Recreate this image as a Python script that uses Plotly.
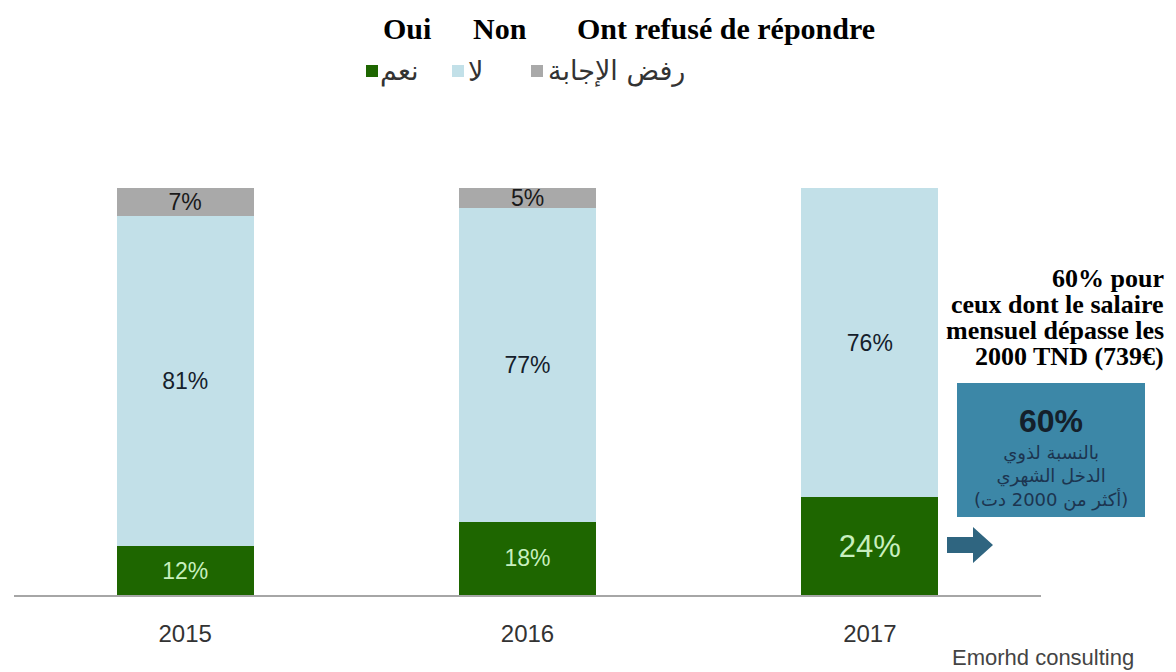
import plotly.graph_objects as go

years = ["2015", "2016", "2017"]
oui = [12, 18, 24]
non = [81, 77, 76]
refus = [7, 5, 0]

names_ar = ["نعم", "لا", "رفض الإجابة"]
names_fr = ["Oui", "Non", "Ont refusé de répondre"]
colors = ["#1e6600", "#c2e0e8", "#a9a9a9"]

note_fr = ["60% pour", "ceux dont le salaire", "mensuel dépasse les", "2000 TND (739€)"]
box_value = "60%"
box_ar = ["بالنسبة لذوي", "الدخل الشهري", "(أكثر من 2000 دت)"]
source = "Emorhd consulting"

W, H = 1176, 672
L, R, T, B = 14, 135, 188, 77


# pixel -> paper coordinates
def px(x):
    return (x - L) / (W - L - R)


def py(y):
    return (H - B - y) / (H - T - B)


def labels(vals):
    return [f"{v}%" if v else "" for v in vals]


fig = go.Figure()
series = [(oui, "#c8efbf", [23, 23, 31]), (non, "#15202b", [23, 23, 23]), (refus, "#1a1a1a", [23, 23, 23])]
for (vals, tcol, tsize), name, col in zip(series, names_ar, colors):
    fig.add_trace(go.Bar(
        x=years, y=vals, name=name, marker_color=col, marker_line_width=0,
        width=0.4, text=labels(vals), textposition="inside", insidetextanchor="middle",
        constraintext="none", textangle=0,
        textfont=dict(family="Liberation Sans", color=tcol, size=tsize),
        showlegend=False, hoverinfo="skip",
    ))

shapes = []
annotations = []

# french legend header
fr_left = [383, 473, 577]
for txt, x0 in zip(names_fr, fr_left):
    annotations.append(dict(x=px(x0 - 2), y=py(29), xref="paper", yref="paper", text=f"<b>{txt}</b>",
                            showarrow=False, xanchor="left", yanchor="middle",
                            font=dict(family="Liberation Serif", size=30, color="#000")))

# arabic legend (square then label)
sq_left = [366, 452, 531]
txt_left = [378, 466, 546]
for name, col, sx, tx in zip(names_ar, colors, sq_left, txt_left):
    shapes.append(dict(type="rect", xref="paper", yref="paper", x0=px(sx), x1=px(sx + 12),
                       y0=py(65), y1=py(77), fillcolor=col, line_width=0))
    annotations.append(dict(x=px(tx), y=py(71), xref="paper", yref="paper", text=name,
                            showarrow=False, xanchor="left", yanchor="middle",
                            font=dict(family="DejaVu Sans", size=27, color="#333")))

# right-hand note
for i, line in enumerate(note_fr):
    annotations.append(dict(x=px(1166), y=py(278 + 26 * i), xref="paper", yref="paper",
                            text=f"<b>{line}</b>", showarrow=False, xanchor="right", yanchor="middle",
                            font=dict(family="Liberation Serif", size=26, color="#000")))

# teal box
shapes.append(dict(type="rect", xref="paper", yref="paper", x0=px(957), x1=px(1145),
                   y0=py(517), y1=py(383), fillcolor="#3c87a7", line_width=0))
annotations.append(dict(x=px(1051), y=py(421), xref="paper", yref="paper", text=f"<b>{box_value}</b>",
                        showarrow=False, xanchor="center", yanchor="middle",
                        font=dict(family="Liberation Sans", size=32, color="#14202b")))
annotations.append(dict(x=px(1051), y=py(476), xref="paper", yref="paper", text="<br>".join(box_ar),
                        showarrow=False, xanchor="center", yanchor="middle", align="center",
                        font=dict(family="DejaVu Sans", size=18, color="#1c3550")))

# arrow
pts = [(947, 537), (973, 537), (973, 527), (993, 545), (973, 563), (973, 553), (947, 553)]
path = "M " + " L ".join(f"{px(a)},{py(b)}" for a, b in pts) + " Z"
shapes.append(dict(type="path", xref="paper", yref="paper", path=path, fillcolor="#2f6580", line_width=0))

annotations.append(dict(x=px(950), y=py(657), xref="paper", yref="paper", text=source,
                        showarrow=False, xanchor="left", yanchor="middle",
                        font=dict(family="Liberation Sans", size=22, color="#444")))

fig.update_layout(
    barmode="stack",
    width=W, height=H,
    margin=dict(l=L, r=R, t=T, b=B, pad=0),
    paper_bgcolor="white", plot_bgcolor="white",
    shapes=shapes, annotations=annotations,
    xaxis=dict(showline=True, linecolor="#a6a6a6", linewidth=1.5, ticks="", showgrid=False,
               tickfont=dict(family="Liberation Sans", size=24, color="#333"), ticklabelstandoff=16),
    yaxis=dict(range=[0, 100], visible=False, showgrid=False, zeroline=False),
)

fig.write_html("out.html", config={"displayModeBar": False},
               post_script="document.body.style.margin = '0';")
